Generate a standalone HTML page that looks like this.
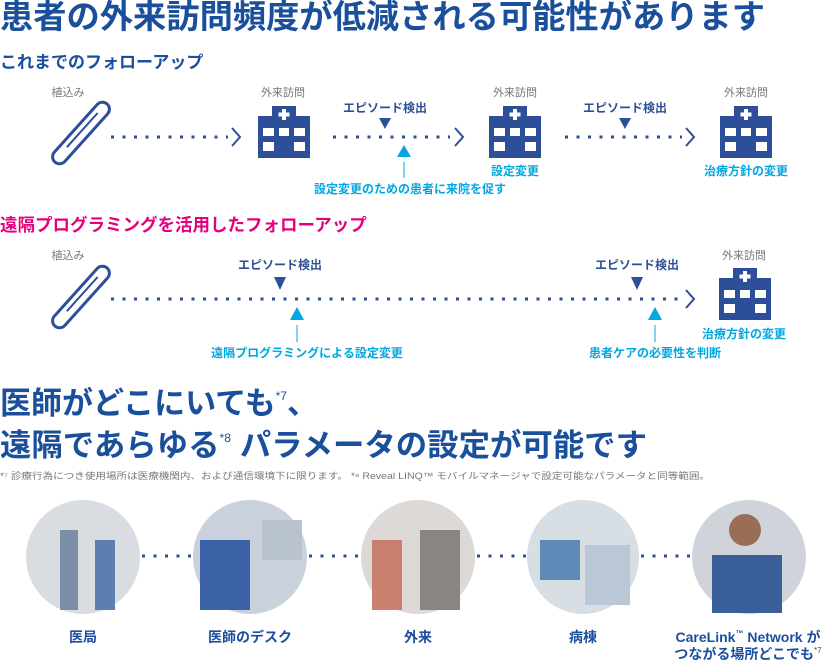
<!DOCTYPE html>
<html><head><meta charset="utf-8"><style>
body{margin:0;background:#fff;width:832px;height:660px;overflow:hidden}
svg{display:block}
text{font-family:"Liberation Sans","Noto Sans CJK JP",sans-serif}
</style></head><body>
<svg width="832" height="660" viewBox="0 0 832 660" xmlns="http://www.w3.org/2000/svg">
<defs>
<g id="hos">
<rect x="14" y="0" width="24" height="14" fill="#2d4f99"/>
<rect x="0" y="10" width="52" height="42" fill="#2d4f99"/>
<rect x="24" y="3" width="4" height="11" fill="#fff"/>
<rect x="20.5" y="6.5" width="11" height="4" fill="#fff"/>
<rect x="5" y="22" width="11" height="8" fill="#fff"/><rect x="21" y="22" width="10" height="8" fill="#fff"/><rect x="36" y="22" width="11" height="8" fill="#fff"/>
<rect x="5" y="36" width="11" height="9" fill="#fff"/><rect x="36" y="36" width="11" height="9" fill="#fff"/>
</g>
<g id="imp" fill="none" stroke="#2d4f99" stroke-width="3">
<rect x="-7" y="-39" width="14" height="78" rx="7" transform="rotate(42)"/>
<line x1="0" y1="-26" x2="0" y2="20" transform="rotate(42) translate(-1,0)" stroke-width="2"/>
</g>
</defs>
<g font-weight="bold" fill="#1a4f9c">
<text x="0" y="28" font-size="33" textLength="765" lengthAdjust="spacingAndGlyphs">患者の外来訪問頻度が低減される可能性があります</text>
<text x="0" y="68" font-size="17">これまでのフォローアップ</text>
<text x="0" y="231" font-size="17.5" fill="#e5007e">遠隔プログラミングを活用したフォローアップ</text>
<text x="0" y="414" font-size="31">医師がどこにいても<tspan font-size="12" font-weight="normal" dy="-14">*7</tspan><tspan dy="14">、</tspan></text>
<text x="0" y="456" font-size="31" textLength="647" lengthAdjust="spacingAndGlyphs">遠隔であらゆる<tspan font-size="12" font-weight="normal" dy="-14">*8</tspan><tspan dy="14"> パラメータの設定が可能です</tspan></text>
</g>
<text x="0" y="479" font-size="9" fill="#777" textLength="710" lengthAdjust="spacingAndGlyphs">*⁷ 診療行為につき使用場所は医療機関内、および通信環境下に限ります。 *⁸ Reveal LINQ™ モバイルマネージャで設定可能なパラメータと同等範囲。</text>
<g font-size="11" fill="#777">
<text x="68" y="96" text-anchor="middle">植込み</text>
<text x="283" y="96" text-anchor="middle">外来訪問</text>
<text x="515" y="96" text-anchor="middle">外来訪問</text>
<text x="746" y="96" text-anchor="middle">外来訪問</text>
<text x="68" y="259" text-anchor="middle">植込み</text>
<text x="744" y="259" text-anchor="middle">外来訪問</text>
</g>
<use href="#imp" x="81" y="133"/>
<use href="#imp" x="81" y="297"/>
<use href="#hos" x="258" y="106"/>
<use href="#hos" x="489" y="106"/>
<use href="#hos" x="720" y="106"/>
<use href="#hos" x="719" y="268"/>
<g stroke="#2d4f99" stroke-width="3" stroke-dasharray="3 8.5" fill="none">
<line x1="111" y1="137" x2="228" y2="137"/>
<line x1="333" y1="137" x2="450" y2="137"/>
<line x1="565" y1="137" x2="682" y2="137"/>
<line x1="111" y1="299" x2="682" y2="299"/>
</g>
<g stroke="#2d4f99" stroke-width="2" fill="none">
<polyline points="232,128 240,137 232,146"/>
<polyline points="455,128 463,137 455,146"/>
<polyline points="686,128 694,137 686,146"/>
<polyline points="686,290 694,299 686,308"/>
</g>
<g font-size="12" font-weight="bold" fill="#2d4f99" text-anchor="middle">
<text x="385" y="112">エピソード検出</text>
<text x="625" y="112">エピソード検出</text>
<text x="280" y="269">エピソード検出</text>
<text x="637" y="269">エピソード検出</text>
</g>
<g fill="#2d4f99">
<polygon points="379,118 391,118 385,129"/>
<polygon points="619,118 631,118 625,129"/>
<polygon points="274,277 286,277 280,290"/>
<polygon points="631,277 643,277 637,290"/>
</g>
<g fill="#00a7e1">
<polygon points="397,157 411,157 404,145"/>
<polygon points="290,320 304,320 297,307"/>
<polygon points="648,320 662,320 655,307"/>
</g>
<g stroke="#00a7e1" stroke-width="1">
<line x1="404" y1="162" x2="404" y2="178"/>
<line x1="297" y1="325" x2="297" y2="342"/>
<line x1="655" y1="325" x2="655" y2="342"/>
</g>
<g font-size="12" font-weight="bold" fill="#00a7e1" text-anchor="middle">
<text x="410" y="193">設定変更のための患者に来院を促す</text>
<text x="515" y="175">設定変更</text>
<text x="746" y="175">治療方針の変更</text>
<text x="744" y="338">治療方針の変更</text>
<text x="307" y="357">遠隔プログラミングによる設定変更</text>
<text x="655" y="357">患者ケアの必要性を判断</text>
</g>
<g stroke="#2d4f99" stroke-width="3" stroke-dasharray="3 8.5">
<line x1="142" y1="556" x2="194" y2="556"/>
<line x1="309" y1="556" x2="361" y2="556"/>
<line x1="477" y1="556" x2="528" y2="556"/>
<line x1="641" y1="556" x2="692" y2="556"/>
</g>
<ellipse cx="83" cy="557" rx="57" ry="57" fill="#d9dde2"/>
<rect x="60" y="530" width="18" height="80" fill="#7d8ea8"/><rect x="95" y="540" width="20" height="70" fill="#5d7fb0"/>
<ellipse cx="250" cy="557" rx="57" ry="57" fill="#c9d1dc"/>
<rect x="200" y="540" width="50" height="70" fill="#3c62a8"/><rect x="262" y="520" width="40" height="40" fill="#b9c3cf"/>
<ellipse cx="418" cy="557" rx="57" ry="57" fill="#dcd9d6"/>
<rect x="372" y="540" width="30" height="70" fill="#c9806e"/><rect x="420" y="530" width="40" height="80" fill="#8a8580"/>
<ellipse cx="583" cy="557" rx="56" ry="57" fill="#d7dee4"/>
<rect x="540" y="540" width="40" height="40" fill="#5f8ab8"/><rect x="585" y="545" width="45" height="60" fill="#b9c7d6"/>
<ellipse cx="749" cy="557" rx="57" ry="57" fill="#cfd4da"/>
<rect x="712" y="555" width="70" height="58" fill="#3a5e98"/><circle cx="745" cy="530" r="16" fill="#9a6e55"/>
<g font-size="14" font-weight="bold" fill="#1a4f9c" text-anchor="middle">
<text x="83" y="642">医局</text>
<text x="250" y="642">医師のデスク</text>
<text x="418" y="642">外来</text>
<text x="583" y="642">病棟</text>
<text x="748" y="642">CareLink<tspan font-size="8" dy="-6">™</tspan><tspan dy="6"> Network が</tspan></text>
<text x="748" y="659">つながる場所どこでも<tspan font-size="8" font-weight="normal" dy="-6">*7</tspan></text>
</g>
</svg>
</body></html>
